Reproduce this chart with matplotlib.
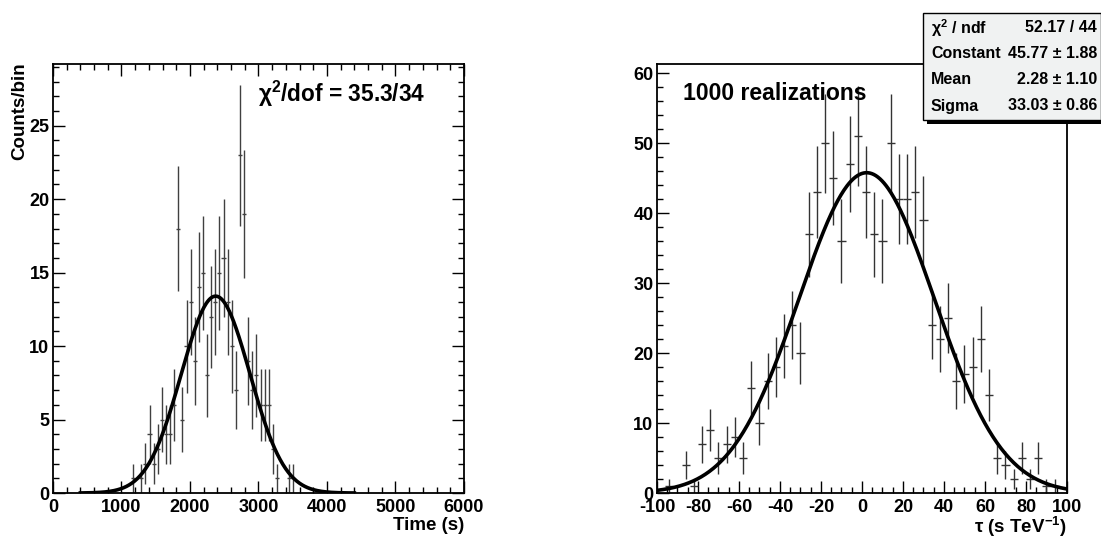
import numpy as np
import matplotlib.pyplot as plt
from matplotlib.patches import Rectangle
from matplotlib.ticker import MultipleLocator

plt.rcParams['font.family'] = ['Liberation Sans', 'DejaVu Sans']
plt.rcParams['font.weight'] = 'bold'
plt.rcParams['axes.unicode_minus'] = False
plt.rcParams['mathtext.fontset'] = 'custom'
plt.rcParams['mathtext.rm'] = 'Liberation Sans:bold'
plt.rcParams['mathtext.it'] = 'Liberation Sans:bold'
plt.rcParams['mathtext.bf'] = 'Liberation Sans:bold'

# left panel: arrival times, 60 s bins
time_centers = [1170, 1290, 1350, 1410, 1470, 1530, 1590, 1650, 1710, 1770,
                1830, 1890, 1950, 2010, 2070, 2130, 2190, 2250, 2310, 2370,
                2430, 2490, 2550, 2610, 2670, 2730, 2790, 2850, 2910, 2970,
                3030, 3090, 3150, 3210, 3270, 3450, 3510]
time_counts = [1, 1, 2, 4, 2, 3, 5, 4, 4, 6,
               18, 5, 10, 13, 9, 14, 15, 8, 12, 13,
               15, 16, 13, 10, 7, 23, 19, 9, 7, 8,
               6, 6, 6, 3, 1, 1, 1]
time_binwidth = 60
time_fit = dict(const=13.4, mean=2375, sigma=500, lo=400, hi=4400)

# right panel: tau distribution, 4 s/TeV bins
tau_centers = [-94, -86, -82, -78, -74, -70, -66, -62, -58, -54,
               -50, -46, -42, -38, -34, -30, -26, -22, -18, -14,
               -10, -6, -2, 2, 6, 10, 14, 18, 22, 26,
               30, 34, 38, 42, 46, 50, 54, 58, 62, 66,
               70, 74, 78, 82, 86, 90, 94]
tau_counts = [1, 4, 1, 7, 9, 5, 7, 8, 5, 15,
              10, 16, 18, 21, 24, 20, 37, 43, 50, 45,
              36, 47, 51, 43, 37, 36, 50, 42, 42, 43,
              39, 24, 22, 25, 16, 17, 18, 22, 14, 5,
              4, 2, 5, 2, 5, 1, 1]
tau_binwidth = 4
tau_fit = dict(const=45.77, mean=2.28, sigma=33.03, lo=-100, hi=100)

stats_labels = ['χ$^{2}$ / ndf', 'Constant', 'Mean', 'Sigma']
stats_values = ['52.17 / 44', '45.77 ± 1.88', '2.28 ± 1.10', '33.03 ± 0.86']


def gauss(x, p):
    return p['const'] * np.exp(-0.5 * ((x - p['mean']) / p['sigma']) ** 2)


def style_axes(ax, all_sides):
    for s in ax.spines.values():
        s.set_linewidth(1.3)
    ax.tick_params(which='both', direction='in', top=all_sides, right=all_sides,
                   labelsize=13, width=1.0)
    ax.tick_params(axis='x', pad=4.5)
    ax.tick_params(axis='y', pad=2.5)
    ax.tick_params(which='major', length=8.5)
    ax.tick_params(which='minor', length=4.5)


fig = plt.figure(figsize=(11.01, 5.38), dpi=100)
ax1 = fig.add_axes([0.0481, 0.0836, 0.3733, 0.7974])
ax2 = fig.add_axes([0.5967, 0.0836, 0.3724, 0.7974])

# left
ax1.errorbar(time_centers, time_counts, xerr=time_binwidth / 2,
             yerr=np.sqrt(time_counts), fmt='none', ecolor='0.25',
             elinewidth=1.0, capsize=0)
tx = np.linspace(time_fit['lo'], time_fit['hi'], 400)
ax1.plot(tx, gauss(tx, time_fit), color='black', lw=2.6)
ax1.set_xlim(0, 6000)
ax1.set_ylim(0, 29.2)
ax1.xaxis.set_major_locator(MultipleLocator(1000))
ax1.xaxis.set_minor_locator(MultipleLocator(200))
ax1.yaxis.set_major_locator(MultipleLocator(5))
ax1.yaxis.set_minor_locator(MultipleLocator(1))
style_axes(ax1, True)
ax1.set_xlabel('Time (s)', fontsize=13.5, fontweight='bold', ha='right', va='top')
ax1.xaxis.set_label_coords(1.0, -0.056)
fig.text(20 / 1101, 1 - 62 / 538, 'Counts/bin', rotation=90, ha='center',
         va='top', fontsize=13.5, fontweight='bold')
ax1.text(3000, 26.6, 'χ$^{2}$/dof = 35.3/34', fontsize=16.3, fontweight='bold',
         ha='left', va='baseline')

# right
ax2.errorbar(tau_centers, tau_counts, xerr=tau_binwidth / 2,
             yerr=np.sqrt(tau_counts), fmt='none', ecolor='0.2',
             elinewidth=1.0, capsize=0)
ux = np.linspace(tau_fit['lo'], tau_fit['hi'], 400)
ax2.plot(ux, gauss(ux, tau_fit), color='black', lw=2.6)
ax2.set_xlim(-100, 100)
ax2.set_ylim(0, 61.3)
ax2.xaxis.set_major_locator(MultipleLocator(20))
ax2.xaxis.set_minor_locator(MultipleLocator(5))
ax2.yaxis.set_major_locator(MultipleLocator(10))
ax2.yaxis.set_minor_locator(MultipleLocator(2))
style_axes(ax2, False)
ax2.set_xlabel('τ (s TeV$^{-1}$)', fontsize=13.5, fontweight='bold', ha='right', va='top')
ax2.xaxis.set_label_coords(1.0, -0.05)
ax2.text(-87.5, 56.2, '1000 realizations', fontsize=16.6, fontweight='bold',
         ha='left', va='baseline')

# stats box
W, H = 1101, 538
bx0, bx1, by0, by1 = 923, 1101, 13, 120
fig.patches.append(Rectangle(((bx0 + 4) / W, 1 - (by1 + 4) / H), (bx1 - bx0) / W,
                             (by1 - by0) / H, transform=fig.transFigure,
                             facecolor='black', edgecolor='none', zorder=5))
fig.patches.append(Rectangle((bx0 / W, 1 - by1 / H), (bx1 - bx0) / W,
                             (by1 - by0) / H, transform=fig.transFigure,
                             facecolor='#f0f2f2', edgecolor='black', lw=1.0, zorder=6))
row_y = [28, 53, 79, 106]
for lab, val, yy in zip(stats_labels, stats_values, row_y):
    fig.text(931 / W, 1 - yy / H, lab, ha='left', va='center', fontsize=11.5,
             fontweight='bold', zorder=7)
    fig.text(1097 / W, 1 - yy / H, val, ha='right', va='center', fontsize=11.5,
             fontweight='bold', zorder=7)

fig.savefig('out.png', dpi=100)
